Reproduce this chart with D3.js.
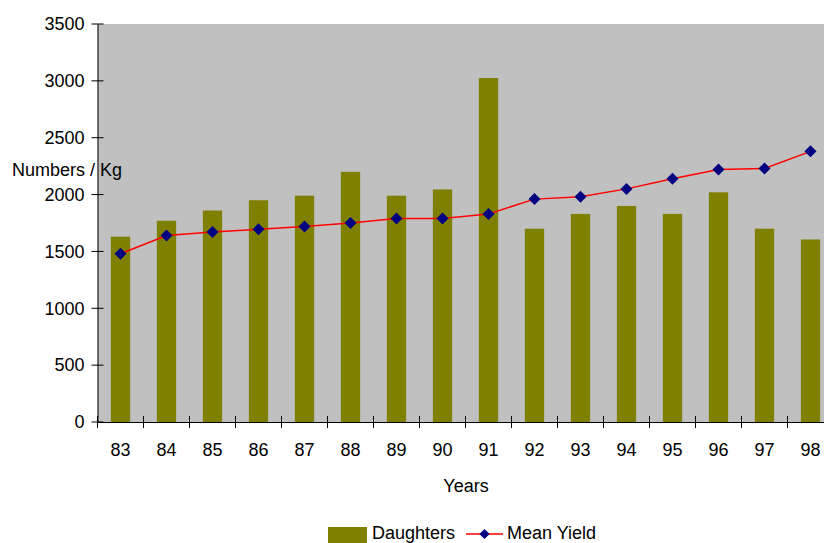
<!DOCTYPE html>
<html>
<head>
<meta charset="utf-8">
<script src="https://cdn.jsdelivr.net/npm/d3@7"></script>
<style>
  body { margin: 0; background: #fff; overflow: hidden; }
  svg { display: block; }
  text { font-family: "Liberation Sans", Arial, sans-serif; fill: #000; }
</style>
</head>
<body>
<div class="container"></div>
<script>
"use strict";

var years = ["83", "84", "85", "86", "87", "88", "89", "90", "91", "92", "93", "94", "95", "96", "97", "98"];
var daughters = [1630, 1770, 1860, 1950, 1990, 2200, 1990, 2045, 3025, 1700, 1830, 1900, 1830, 2020, 1700, 1605];
var meanYield = [1480, 1640, 1670, 1695, 1720, 1750, 1790, 1790, 1830, 1960, 1980, 2050, 2140, 2220, 2230, 2380];
var yTicks = [0, 500, 1000, 1500, 2000, 2500, 3000, 3500];

var width = 824;
var height = 543;
var plotLeft = 97.5, plotTop = 24, plotBottom = 422, plotRight = 833.5;
var fontSize = "18px";

var svg = d3.select(".container").append("svg")
    .attr("width", width)
    .attr("height", height);

var x = d3.scaleBand().domain(years).range([plotLeft, plotRight]);
var y = d3.scaleLinear().domain([0, 3500]).range([plotBottom, plotTop]);

// plot area background
svg.append("rect")
    .attr("x", plotLeft)
    .attr("y", plotTop)
    .attr("width", plotRight - plotLeft)
    .attr("height", plotBottom - plotTop)
    .attr("fill", "#c0c0c0");

// bars
var barW = x.bandwidth() * 0.42;
svg.selectAll(".bar")
    .data(years)
    .enter().append("rect")
    .attr("class", "bar")
    .attr("x", function(d) { return x(d) + (x.bandwidth() - barW) / 2; })
    .attr("y", function(d, i) { return y(daughters[i]); })
    .attr("width", barW)
    .attr("height", function(d, i) { return plotBottom - y(daughters[i]); })
    .attr("fill", "#808000");

// axes
var yAxis = d3.axisLeft(y).tickValues(yTicks).tickFormat(d3.format("d"))
    .tickSize(0).tickPadding(13);
var gy = svg.append("g")
    .attr("transform", "translate(" + plotLeft + ",0)")
    .call(yAxis);
gy.select(".domain").attr("stroke", "#000");
gy.selectAll("text").style("font-size", fontSize).attr("fill", "#000");
gy.selectAll(".tickmark")
    .data(yTicks)
    .enter().append("line")
    .attr("x1", -6).attr("x2", 6)
    .attr("y1", function(d) { return y(d); })
    .attr("y2", function(d) { return y(d); })
    .attr("stroke", "#000");

var gx = svg.append("g")
    .attr("transform", "translate(0," + plotBottom + ")")
    .call(d3.axisBottom(x).tickSize(0).tickPadding(21));
gx.select(".domain").attr("stroke", "#000");
gx.selectAll("text").style("font-size", fontSize).attr("fill", "#000");
gx.selectAll(".tickmark")
    .data(years)
    .enter().append("line")
    .attr("x1", function(d) { return x(d); })
    .attr("x2", function(d) { return x(d); })
    .attr("y1", -6).attr("y2", 6)
    .attr("stroke", "#000");

// mean yield line
var line = d3.line()
    .x(function(d, i) { return x(years[i]) + x.bandwidth() / 2; })
    .y(function(d) { return y(d); });

svg.append("path")
    .datum(meanYield)
    .attr("d", line)
    .attr("fill", "none")
    .attr("stroke", "#ff0000")
    .attr("stroke-width", 1.5);

var diamond = "M0,-6L6,0L0,6L-6,0Z";
svg.selectAll(".marker")
    .data(meanYield)
    .enter().append("path")
    .attr("class", "marker")
    .attr("d", diamond)
    .attr("transform", function(d, i) {
        return "translate(" + (x(years[i]) + x.bandwidth() / 2) + "," + y(d) + ")";
    })
    .attr("fill", "#000080");

// axis titles
svg.append("text")
    .attr("x", 12)
    .attr("y", 176)
    .style("font-size", fontSize)
    .text("Numbers / Kg");

svg.append("text")
    .attr("x", 466)
    .attr("y", 492)
    .attr("text-anchor", "middle")
    .style("font-size", fontSize)
    .text("Years");

// legend
var legend = svg.append("g");
legend.append("rect")
    .attr("x", 328).attr("y", 527)
    .attr("width", 39).attr("height", 20)
    .attr("fill", "#808000");
legend.append("text")
    .attr("x", 372).attr("y", 539)
    .style("font-size", fontSize)
    .text("Daughters");
legend.append("line")
    .attr("x1", 466).attr("x2", 503)
    .attr("y1", 534).attr("y2", 534)
    .attr("stroke", "#ff0000")
    .attr("stroke-width", 1.5);
legend.append("path")
    .attr("d", diamond)
    .attr("transform", "translate(484.5,534) scale(0.85)")
    .attr("fill", "#000080");
legend.append("text")
    .attr("x", 507).attr("y", 539)
    .style("font-size", fontSize)
    .text("Mean Yield");
</script>
</body>
</html>
